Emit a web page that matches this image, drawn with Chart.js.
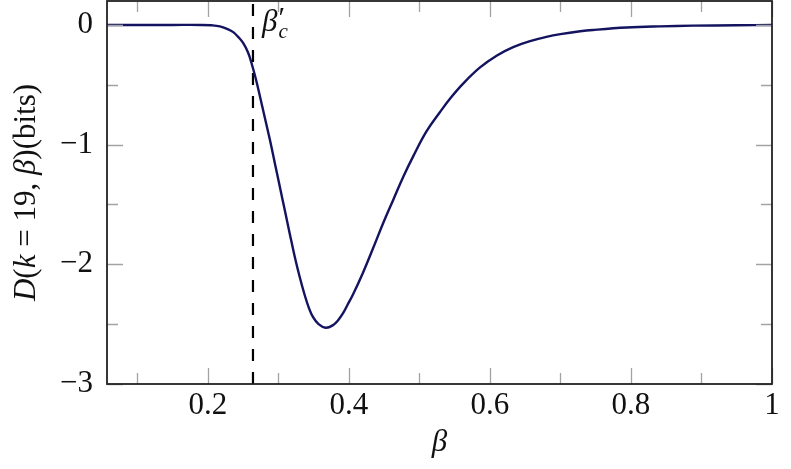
<!DOCTYPE html>
<html>
<head>
<meta charset="utf-8">
<script src="https://cdn.jsdelivr.net/npm/chart.js@4/dist/chart.umd.min.js"></script>
<style>
  html, body { margin: 0; padding: 0; background: #fff; }
  canvas { display: block; }
</style>
</head>
<body>
<canvas id="chart" width="791" height="469"></canvas>
<script>
// values
const betaValues = [0.057, 0.10, 0.15, 0.19, 0.205, 0.217, 0.228, 0.236, 0.243, 0.250,
  0.257, 0.262, 0.268, 0.274, 0.281, 0.288, 0.295, 0.302, 0.309, 0.316,
  0.323, 0.330, 0.337, 0.343, 0.349, 0.357, 0.367, 0.377, 0.385, 0.392,
  0.398, 0.406, 0.420, 0.434, 0.449, 0.463, 0.477, 0.491, 0.510, 0.529,
  0.545, 0.562, 0.586, 0.610, 0.633, 0.657, 0.680, 0.700, 0.728, 0.746,
  0.794, 0.841, 0.888, 0.950, 1.0];
const dValues = [0, 0, 0, 0, -0.003, -0.012, -0.035, -0.06, -0.10, -0.15,
  -0.23, -0.32, -0.45, -0.60, -0.78, -0.96, -1.155, -1.35, -1.545, -1.74,
  -1.93, -2.10, -2.25, -2.36, -2.44, -2.50, -2.53, -2.51, -2.465, -2.405,
  -2.34, -2.25, -2.07, -1.87, -1.65, -1.46, -1.27, -1.10, -0.89, -0.73,
  -0.605, -0.49, -0.355, -0.255, -0.185, -0.135, -0.10, -0.077, -0.053, -0.042,
  -0.022, -0.012, -0.006, -0.003, -0.001];

const betaCritical = 0.264;

const xTickValues = [0.1, 0.2, 0.3, 0.4, 0.5, 0.6, 0.7, 0.8, 0.9, 1.0];
const xTickLabels = ["", "0.2", "", "0.4", "", "0.6", "", "0.8", "", "1"];
const yTickValues = [-3, -2.5, -2, -1.5, -1, -0.5, 0];
const yTickLabels = ["\u22123", "", "\u22122", "", "\u22121", "", "0"];

const serif = "'Liberation Serif', 'DejaVu Serif', serif";
const fontSize = 31;

function isMajor(labels, i) {
  return labels[i] !== "";
}

// pgfplots-like frame with inward ticks, plus the math labels
const framePlugin = {
  id: "frame",
  afterDatasetsDraw(chart) {
    const { ctx, chartArea: a, scales } = chart;
    ctx.save();

    ctx.strokeStyle = "#a3a3a3";
    ctx.lineWidth = 1.3;
    xTickValues.forEach((v, i) => {
      const x = Math.round(scales.x.getPixelForValue(v)) + 0.5;
      const len = isMajor(xTickLabels, i) ? 16 : 11;
      ctx.beginPath();
      ctx.moveTo(x, a.bottom);
      ctx.lineTo(x, a.bottom - len);
      ctx.moveTo(x, a.top);
      ctx.lineTo(x, a.top + len);
      ctx.stroke();
    });
    yTickValues.forEach((v, i) => {
      const y = Math.round(scales.y.getPixelForValue(v)) + 0.5;
      const len = isMajor(yTickLabels, i) ? 16 : 11;
      ctx.beginPath();
      ctx.moveTo(a.left, y);
      ctx.lineTo(a.left + len, y);
      ctx.moveTo(a.right, y);
      ctx.lineTo(a.right - len, y);
      ctx.stroke();
    });

    ctx.strokeStyle = "#222";
    ctx.lineWidth = 1.8;
    ctx.strokeRect(a.left, a.top, a.right - a.left, a.bottom - a.top);

    // beta'_c label next to the dashed line
    const bx = scales.x.getPixelForValue(betaCritical) + 9;
    ctx.fillStyle = "#111";
    ctx.textBaseline = "alphabetic";
    ctx.font = `italic ${fontSize}px ${serif}`;
    ctx.fillText("\u03B2", bx, 31);
    const bw = ctx.measureText("\u03B2").width;
    ctx.font = `italic 21px ${serif}`;
    ctx.fillText("c", bx + bw + 1, 38);
    ctx.font = `30px ${serif}`;
    ctx.fillText("\u2032", bx + bw + 1, 27);

    // y axis title with mixed italic / upright parts
    const parts = [
      ["D", true], ["(", false], ["k", true], [" = ", false],
      ["19, ", false], ["\u03B2", true], [")(bits)", false],
    ];
    let total = 0;
    parts.forEach(([t, it]) => {
      ctx.font = `${it ? "italic " : ""}${fontSize}px ${serif}`;
      total += ctx.measureText(t).width;
    });
    ctx.translate(27, (a.top + a.bottom) / 2);
    ctx.rotate(-Math.PI / 2);
    ctx.textBaseline = "middle";
    let cx = -total / 2;
    parts.forEach(([t, it]) => {
      ctx.font = `${it ? "italic " : ""}${fontSize}px ${serif}`;
      ctx.fillText(t, cx, 0);
      cx += ctx.measureText(t).width;
    });

    ctx.restore();
  },
};

const ctx = document.getElementById("chart").getContext("2d");

new Chart(ctx, {
  type: "line",
  data: {
    datasets: [
      {
        label: "D(k = 19, beta)",
        data: betaValues.map((b, i) => ({ x: b, y: dValues[i] })),
        borderColor: "#13135f",
        borderWidth: 2.4,
        pointRadius: 0,
        fill: false,
        tension: 0.4,
      },
      {
        label: "beta_c",
        data: [
          { x: betaCritical, y: -3 },
          { x: betaCritical, y: 0.2 },
        ],
        borderColor: "#000",
        borderWidth: 2.2,
        borderDash: [12, 11],
        pointRadius: 0,
        fill: false,
      },
    ],
  },
  options: {
    responsive: false,
    devicePixelRatio: 1,
    animation: false,
    layout: { padding: { left: 0, right: 19, top: 1, bottom: 0 } },
    plugins: {
      legend: { display: false },
      tooltip: { enabled: false },
    },
    scales: {
      x: {
        type: "linear",
        min: 0.057,
        max: 1,
        afterFit: (scale) => {
          scale.height = 85;
          scale.paddingLeft = 0;
          scale.paddingRight = 0;
        },
        afterBuildTicks: (scale) => {
          scale.ticks = xTickValues.map((v) => ({ value: v }));
        },
        grid: { display: false, drawTicks: false },
        border: { display: false },
        ticks: {
          autoSkip: false,
          maxRotation: 0,
          padding: 3,
          color: "#111",
          font: { family: serif, size: fontSize },
          callback: (v, i) => xTickLabels[i],
        },
        title: {
          display: true,
          text: "\u03B2",
          color: "#111",
          padding: { top: 0, bottom: 8 },
          font: { family: serif, size: fontSize, style: "italic", lineHeight: 1.2 },
        },
      },
      y: {
        type: "linear",
        min: -3,
        max: 0.2,
        afterFit: (scale) => {
          scale.width = 107;
          scale.paddingTop = 0;
          scale.paddingBottom = 0;
        },
        afterBuildTicks: (scale) => {
          scale.ticks = yTickValues.map((v) => ({ value: v }));
        },
        grid: { display: false, drawTicks: false },
        border: { display: false },
        ticks: {
          autoSkip: false,
          padding: 14,
          color: "#111",
          font: { family: serif, size: fontSize },
          callback: (v, i) => yTickLabels[i],
        },
      },
    },
  },
  plugins: [framePlugin],
});
</script>
</body>
</html>
